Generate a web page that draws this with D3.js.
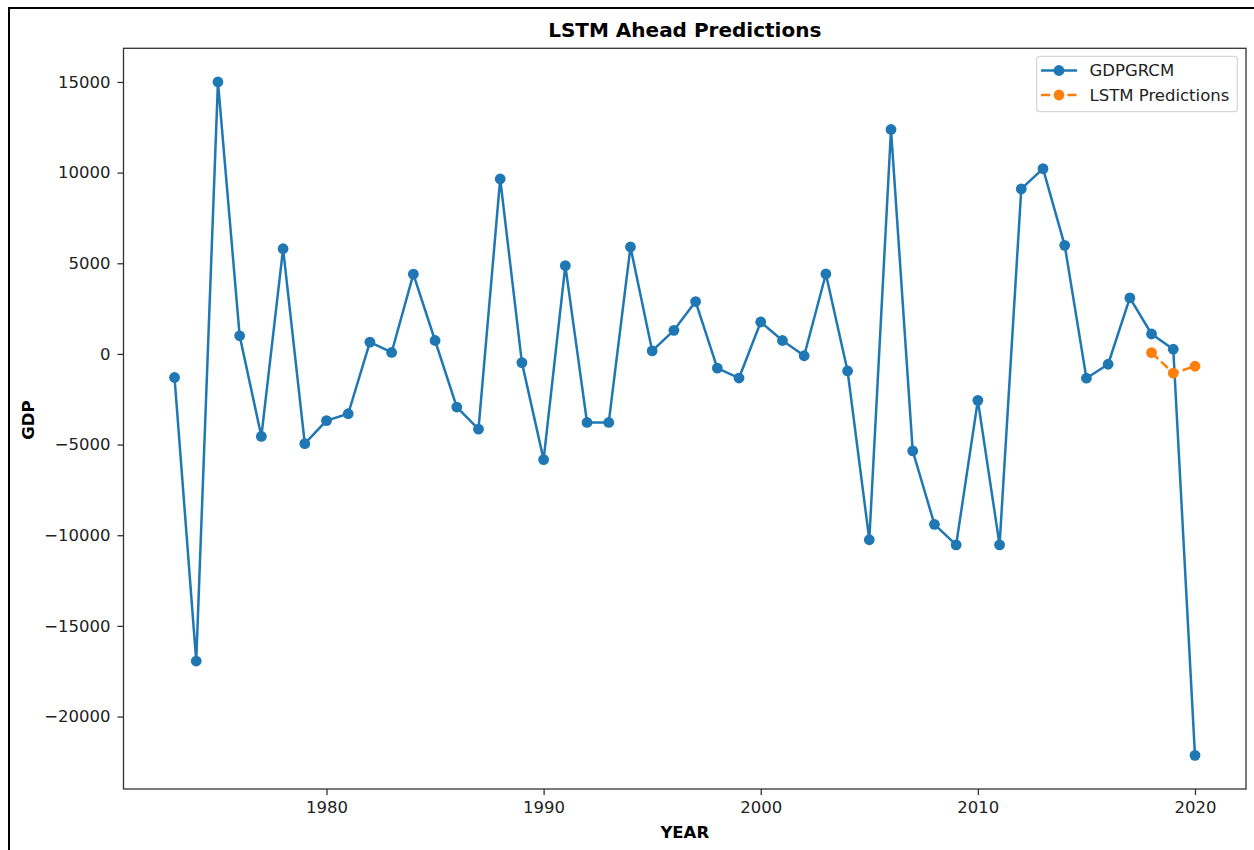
<!DOCTYPE html>
<html>
<head>
<meta charset="utf-8">
<script src="https://cdn.jsdelivr.net/npm/d3@7/dist/d3.min.js"></script>
<style>
  html, body { margin: 0; padding: 0; background: #fff; }
  svg { display: block; font-family: "DejaVu Sans", sans-serif; }
</style>
</head>
<body>
<svg id="chart" width="1254" height="850"></svg>
<script>
// Observed GDP series (GDPGRCM) by year
const years = d3.range(1973, 2021);
const gdpValues = [
  -1300, -16940, 15000, 1000, -4550, 5800, -4950, -3680, -3300, 650,
  80, 4400, 740, -2930, -4150, 9650, -480, -5830, 4870, -3780,
  -3780, 5900, 170, 1300, 2890, -780, -1330, 1760, 740, -100,
  4410, -940, -10250, 12380, -5350, -9400, -10530, -2560, -10530, 9100,
  10220, 5990, -1340, -570, 3090, 1100, 260, -22140
];

// LSTM forecasts for the last three years
const predYears = [2018, 2019, 2020];
const predValues = [70, -1060, -680];

const xTicks = [1980, 1990, 2000, 2010, 2020];
const yTicks = [-20000, -15000, -10000, -5000, 0, 5000, 10000, 15000];

const seriesNames = ["GDPGRCM", "LSTM Predictions"];
const blue = "#1f77b4", orange = "#ff7f0e";

const svg = d3.select("#chart");

// figure frame
svg.append("rect")
  .attr("x", 9).attr("y", 8).attr("width", 1400).attr("height", 1000)
  .attr("fill", "none").attr("stroke", "#000").attr("stroke-width", 2);

const plot = { left: 123.5, right: 1246, top: 48.3, bottom: 789 };

// 5% padding around the data range on both axes
const allYears = years.concat(predYears);
const allVals = gdpValues.concat(predValues);
const [x0, x1] = d3.extent(allYears);
const [y0, y1] = d3.extent(allVals);
const xPad = (x1 - x0) * 0.05, yPad = (y1 - y0) * 0.05;

const x = d3.scaleLinear().domain([x0 - xPad, x1 + xPad]).range([plot.left, plot.right]);
const y = d3.scaleLinear().domain([y0 - yPad, y1 + yPad]).range([plot.bottom, plot.top]);

const tickFont = 16.5;

// x axis
const xAxis = svg.append("g")
  .attr("transform", `translate(0,${plot.bottom})`)
  .call(d3.axisBottom(x).tickValues(xTicks).tickFormat(d3.format("d")).tickSize(6).tickPadding(6));
// y axis
const yAxis = svg.append("g")
  .attr("transform", `translate(${plot.left},0)`)
  .call(d3.axisLeft(y).tickValues(yTicks).tickFormat(d => d < 0 ? "\u2212" + Math.abs(d) : String(d)).tickSize(6).tickPadding(7));

[xAxis, yAxis].forEach(g => {
  g.select(".domain").remove();
  g.selectAll(".tick line").attr("stroke", "#333").attr("stroke-width", 1.3);
  g.selectAll(".tick text")
    .attr("fill", "#222")
    .style("font-size", tickFont + "px")
    .style("font-family", "DejaVu Sans, sans-serif");
});

// axes frame
svg.append("rect")
  .attr("x", plot.left).attr("y", plot.top)
  .attr("width", plot.right - plot.left).attr("height", plot.bottom - plot.top)
  .attr("fill", "none").attr("stroke", "#333").attr("stroke-width", 1.3);

// observed series
const line = d3.line().x(d => x(d[0])).y(d => y(d[1]));
const gdpData = d3.zip(years, gdpValues);
const predData = d3.zip(predYears, predValues);

svg.append("path").datum(gdpData)
  .attr("d", line).attr("fill", "none")
  .attr("stroke", blue).attr("stroke-width", 2.5).attr("stroke-linejoin", "round");
svg.append("g").selectAll("circle").data(gdpData).join("circle")
  .attr("cx", d => x(d[0])).attr("cy", d => y(d[1])).attr("r", 5.4).attr("fill", blue);

// predictions
svg.append("path").datum(predData)
  .attr("d", line).attr("fill", "none")
  .attr("stroke", orange).attr("stroke-width", 2.5).attr("stroke-dasharray", "9.2,4");
svg.append("g").selectAll("circle").data(predData).join("circle")
  .attr("cx", d => x(d[0])).attr("cy", d => y(d[1])).attr("r", 5.4).attr("fill", orange);

// title and axis labels
const midX = (plot.left + plot.right) / 2;
svg.append("text")
  .attr("x", midX).attr("y", 37).attr("text-anchor", "middle")
  .style("font-size", "20px").style("font-weight", "bold").attr("fill", "#000")
  .text("LSTM Ahead Predictions");
svg.append("text")
  .attr("x", midX).attr("y", 837.5).attr("text-anchor", "middle")
  .style("font-size", tickFont + "px").style("font-weight", "bold").attr("fill", "#000")
  .text("YEAR");
svg.append("text")
  .attr("transform", `translate(34,${(plot.top + plot.bottom) / 2 + 1.5}) rotate(-90)`)
  .attr("text-anchor", "middle")
  .style("font-size", tickFont + "px").style("font-weight", "bold").attr("fill", "#000")
  .text("GDP");

// legend
const legend = svg.append("g");
legend.append("rect")
  .attr("x", 1036.7).attr("y", 56.3).attr("width", 200.6).attr("height", 55.4)
  .attr("rx", 3).attr("ry", 3)
  .attr("fill", "#fff").attr("fill-opacity", 0.8)
  .attr("stroke", "#d6d6d6").attr("stroke-width", 1.2);

const legendItems = [
  { name: seriesNames[0], color: blue, dash: null, cy: 70.5 },
  { name: seriesNames[1], color: orange, dash: "9.2,4", cy: 95 }
];
legendItems.forEach(item => {
  legend.append("line")
    .attr("x1", 1041).attr("x2", 1077).attr("y1", item.cy).attr("y2", item.cy)
    .attr("stroke", item.color).attr("stroke-width", 2.5)
    .attr("stroke-dasharray", item.dash);
  legend.append("circle")
    .attr("cx", 1059).attr("cy", item.cy).attr("r", 5.4).attr("fill", item.color);
  legend.append("text")
    .attr("x", 1089.5).attr("y", item.cy).attr("dy", "0.36em")
    .style("font-size", tickFont + "px").attr("fill", "#222")
    .text(item.name);
});
</script>
</body>
</html>
